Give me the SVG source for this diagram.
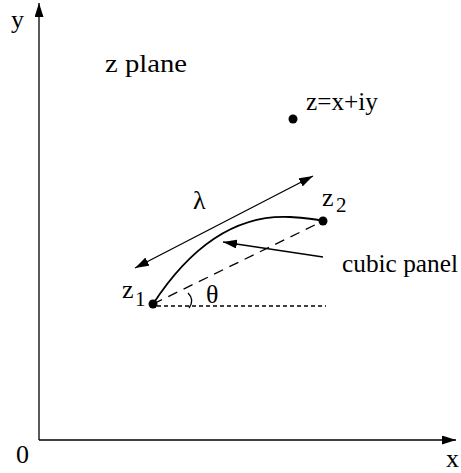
<svg xmlns="http://www.w3.org/2000/svg" width="461" height="473" viewBox="0 0 461 473">
  <style>
    text { font-family: "Liberation Serif", "Times New Roman", serif; fill: #000; }
    .lbl { font-size: 26px; }
    .sub { font-size: 21px; }
    .line { stroke: #000; stroke-width: 1.3; fill: none; }
    .dot { fill: #000; }
  </style>
  <defs>
    <marker id="arrow" viewBox="0 0 14 9" refX="14" refY="4.5" markerWidth="14" markerHeight="9" markerUnits="userSpaceOnUse" orient="auto-start-reverse">
      <path d="M0,0 L14,4.5 L0,9 z" fill="#000"/>
    </marker>
  </defs>
  <rect width="461" height="473" fill="#fff"/>

  <g id="axes">
    <line class="line" x1="39" y1="440" x2="39" y2="3" marker-end="url(#arrow)"/>
    <line class="line" x1="39" y1="440" x2="456" y2="440" marker-end="url(#arrow)"/>
    <text class="lbl" x="11" y="28">y</text>
    <text class="lbl" x="16" y="463">0</text>
    <text class="lbl" x="446" y="467">x</text>
  </g>

  <g id="plane-label">
    <text class="lbl" x="105" y="72" textLength="82" lengthAdjust="spacingAndGlyphs">z plane</text>
  </g>

  <g id="point-z">
    <circle class="dot" cx="293" cy="119" r="4.5"/>
    <text class="lbl" x="306" y="110" textLength="72" lengthAdjust="spacingAndGlyphs">z=x+iy</text>
  </g>

  <g id="z1">
    <circle class="dot" cx="153" cy="304" r="4.5"/>
    <text class="lbl" x="122" y="298">z</text>
    <text class="sub" x="135" y="306">1</text>
  </g>

  <g id="z2">
    <circle class="dot" cx="323" cy="221" r="4.5"/>
    <text class="lbl" x="322" y="206">z</text>
    <text class="sub" x="336" y="212">2</text>
  </g>

  <g id="connectors">
    <path class="line" style="stroke-width:1.8" d="M153,304 C185,255 230,214 290,217 C305,218 315,219 323,221"/>
    <line class="line" x1="153" y1="304" x2="323" y2="221" stroke-dasharray="10,7"/>
    <line class="line" x1="157" y1="306" x2="326" y2="306" stroke-dasharray="4,3"/>
    <path class="line" d="M188,293 Q195,300 189,308"/>
    <line class="line" x1="135" y1="268" x2="313" y2="176" marker-start="url(#arrow)" marker-end="url(#arrow)"/>
    <line class="line" x1="323" y1="257" x2="223" y2="242" marker-end="url(#arrow)"/>
  </g>

  <g id="labels">
    <text class="lbl" x="193" y="209">λ</text>
    <text class="lbl" x="206" y="303">θ</text>
    <text class="lbl" x="342" y="272" textLength="116" lengthAdjust="spacingAndGlyphs">cubic panel</text>
  </g>
</svg>
